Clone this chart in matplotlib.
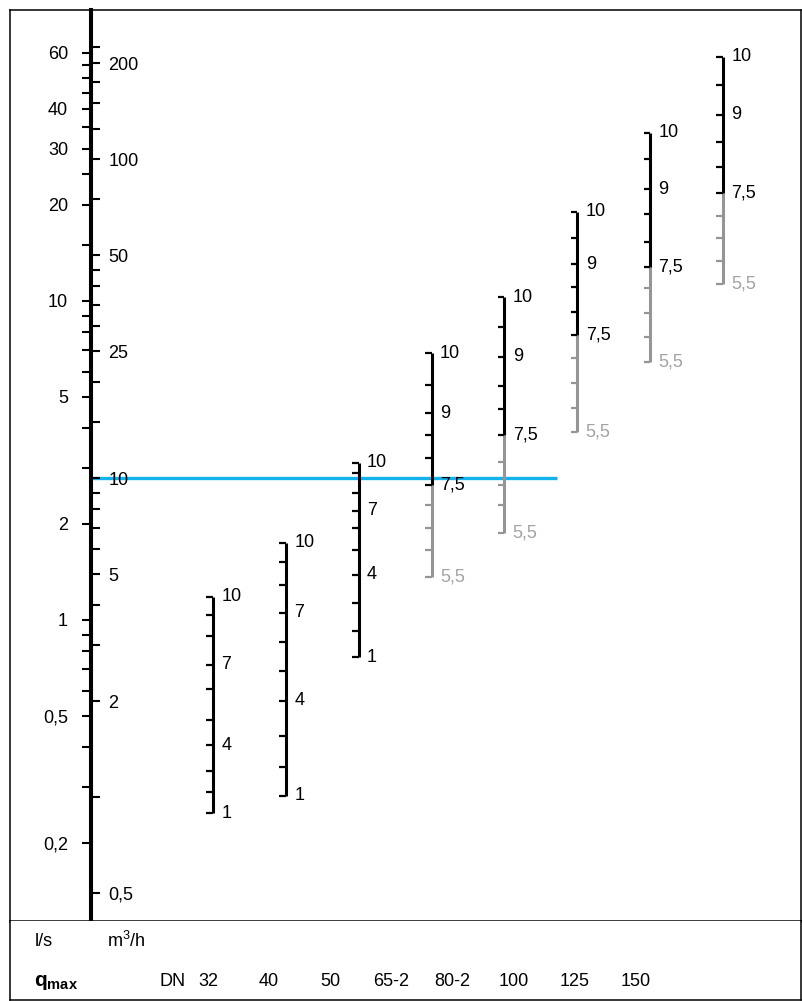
import numpy as np
import matplotlib.pyplot as plt

plt.rcParams['font.family'] = ['Liberation Sans', 'DejaVu Sans']
plt.rcParams['mathtext.fontset'] = 'custom'
plt.rcParams['mathtext.rm'] = 'Liberation Sans'
plt.rcParams['mathtext.bf'] = 'Liberation Sans:bold'

# main scale, l/s (left side of the thick axis)
ls_ticks = [60, 55, 50, 45, 40, 35, 30, 25, 20, 15, 10, 9, 8, 7, 6, 5, 4, 3, 2,
            1, 0.9, 0.8, 0.7, 0.6, 0.5, 0.4, 0.3, 0.2]
ls_labels = [60, 40, 30, 20, 10, 5, 2, 1, 0.5, 0.2]

# main scale, m3/h (right side of the thick axis)
m3h_ticks = [225, 200, 175, 150, 125, 100, 75, 50, 45, 40, 35, 30, 25, 20, 15,
             10, 9, 8, 7, 6, 5, 4, 3, 2, 1, 0.5]
m3h_labels = [200, 100, 50, 25, 10, 5, 2, 0.5]

# DN columns
dn_names = ['32', '40', '50', '65-2', '80-2', '100', '125', '150']
small_vals = [10, 9, 8, 7, 6, 5, 4, 3, 2, 1]
small_labels = [10, 7, 4, 1]
large_vals = [10, 9.5, 9, 8.5, 8, 7.5, 7, 6.5, 6, 5.5]
large_labels = [10, 9, 7.5, 5.5]
split_val = 7.5

# flow (l/s) at each scale mark
dn_flow = {
    '32':   [1.183, 1.037, 0.891, 0.723, 0.608, 0.486, 0.404, 0.336, 0.289, 0.248],
    '40':   [1.747, 1.517, 1.287, 1.054, 0.855, 0.692, 0.558, 0.434, 0.347, 0.281],
    '50':   [3.112, 2.883, 2.496, 2.201, 1.939, 1.657, 1.384, 1.133, 0.926, 0.764],
    '65-2': [6.856, 5.454, 4.446, 3.802, 3.213, 2.650, 2.294, 1.939, 1.657, 1.367],
    '80-2': [10.29, 8.308, 6.689, 5.414, 4.576, 3.802, 3.121, 2.650, 2.294, 1.870],
    '100':  [19.01, 15.76, 13.02, 11.09, 9.258, 7.824, 6.612, 5.533, 4.619, 3.885],
    '125':  [33.70, 27.81, 22.39, 18.74, 15.35, 12.81, 10.96, 9.191, 7.729, 6.450],
    '150':  [58.32, 47.54, 38.30, 31.58, 26.36, 21.85, 18.47, 15.79, 13.38, 11.28],
}

marker_m3h = 10  # blue reading line

FS = 13


def fmt(v):
    return f'{v:g}'.replace('.', ',')


W, H = 803, 1001
fig = plt.figure(figsize=(W / 100, H / 100), dpi=100)


def fx(px):
    return px / W


def fy(py):
    return 1 - py / H


ax = fig.add_axes([fx(10), fy(921), fx(801) - fx(10), fy(10) - fy(921)])
ax.set_yscale('log')
ax.set_ylim(0.1138, 81.7)
ax.set_xlim(-2.786, 8.07)
ax.set_xticks([])
ax.yaxis.set_major_locator(plt.NullLocator())
ax.yaxis.set_minor_locator(plt.NullLocator())
for s in ['left', 'right', 'top']:
    ax.spines[s].set_linewidth(1.1)
ax.spines['bottom'].set_linewidth(1.8)

main_x = -1.674
main_pos = (main_x + 2.786) / (8.07 + 2.786)

sec_ls = ax.secondary_yaxis(main_pos)
sec_ls.set_ticks(ls_ticks, [fmt(v) if v in ls_labels else '' for v in ls_ticks])
sec_ls.tick_params(which='major', direction='out', length=6.5, width=1.5,
                   pad=10, labelsize=FS)
sec_ls.tick_params(which='minor', length=0, labelleft=False, labelright=False)
sec_ls.spines['left'].set_linewidth(2.9)

sec_m3 = ax.secondary_yaxis(main_pos, functions=(lambda q: q * 3.6,
                                                 lambda m: m / 3.6))
sec_m3.set_alignment('right')
sec_m3.set_ticks(m3h_ticks, [fmt(v) if v in m3h_labels else '' for v in m3h_ticks])
sec_m3.tick_params(which='major', direction='out', length=6.5, width=1.5,
                   pad=6, labelsize=FS)
sec_m3.tick_params(which='minor', length=0, labelleft=False, labelright=False)
sec_m3.spines['right'].set_linewidth(2.9)
sec_m3.set_zorder(5)
sec_ls.set_zorder(5)

# blue reading line
ax.plot([main_x, 4.72], [marker_m3h / 3.6] * 2, color='#12b2ec', lw=2.4,
        solid_capstyle='butt', zorder=1)

tick_len = 0.09
gray_line = '#959595'
gray_text = '#a3a3a3'
for i, name in enumerate(dn_names):
    q = dn_flow[name]
    small = name in ('32', '40', '50')
    vals = small_vals if small else large_vals
    labs = small_labels if small else large_labels
    if small:
        ax.plot([i, i], [q[0], q[-1]], color='black', lw=2.2,
                solid_capstyle='butt', zorder=3)
    else:
        k = vals.index(split_val)
        ax.plot([i, i], [q[k], q[-1]], color=gray_line, lw=2.2,
                solid_capstyle='butt', zorder=3)
        ax.plot([i, i], [q[0], q[k]], color='black', lw=2.2,
                solid_capstyle='butt', zorder=3)
    for v, qq in zip(vals, q):
        c = 'black' if (small or v >= split_val) else gray_line
        ax.plot([i - tick_len, i], [qq, qq], color=c, lw=1.6,
                solid_capstyle='butt', zorder=3)
        if v in labs:
            tc = 'black' if (small or v >= split_val) else gray_text
            ax.annotate(fmt(v), (i, qq), xytext=(6, 0), textcoords='offset points',
                        ha='left', va='center', fontsize=FS, color=tc, zorder=4)

# lower band
bx = fig.add_axes([fx(10), fy(1000), fx(801) - fx(10), fy(921) - fy(1000)])
bx.set_xticks([])
bx.set_yticks([])
bx.spines['top'].set_visible(False)
for s in ['left', 'right', 'bottom']:
    bx.spines[s].set_linewidth(1.1)

fig.text(fx(35), fy(941), 'l/s', ha='left', va='center', fontsize=FS)
fig.text(fx(107), fy(941), 'm$^3$/h', ha='left', va='center', fontsize=FS)
fig.text(fx(34), fy(983), r'$\mathbf{q_{max}}$', ha='left', va='center', fontsize=15)
fig.text(fx(160), fy(981), 'DN', ha='left', va='center', fontsize=FS)
for name, cx in zip(dn_names, np.linspace(208, 636, len(dn_names))):
    fig.text(fx(cx), fy(981), name, ha='center', va='center', fontsize=FS)

fig.savefig('out.png', dpi=100)
